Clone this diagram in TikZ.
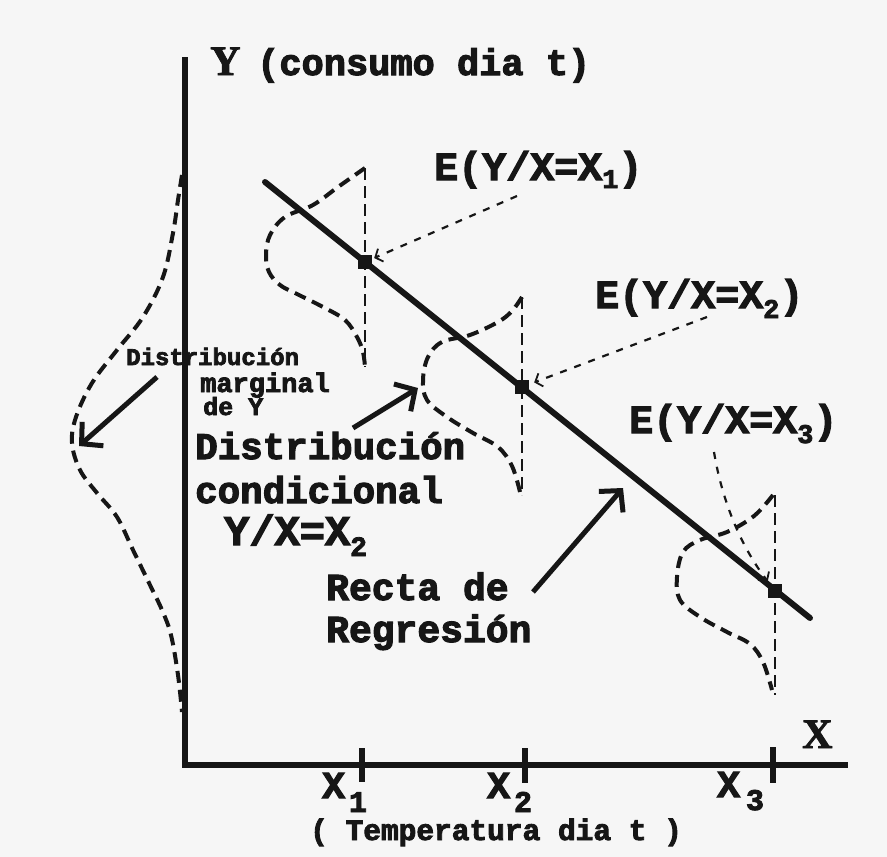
\documentclass[tikz,border=0pt]{standalone}
\usepackage{fontspec}
\usetikzlibrary{arrows.meta}
\newfontfamily\lab{Liberation Mono}[BoldFeatures={FakeBold=3}]
\newfontfamily\serb{Liberation Serif}[BoldFeatures={FakeBold=2}]
\definecolor{ink}{RGB}{22,22,22}
\definecolor{paper}{RGB}{246,246,246}
\newcommand{\fs}[1]{\fontsize{#1}{#1}\selectfont}
\newcommand{\lowsub}[4]{\kern#1pt\raisebox{-#2pt}{\fs{#3}#4}}
\begin{document}
\begin{tikzpicture}[x=1pt,y=-1pt,
  txt/.style={inner sep=0pt, anchor=base west, text=ink, font=\lab\bfseries},
  axisline/.style={line width=6.5pt, ink},
  tickline/.style={line width=5.5pt, ink},
  regline/.style={line width=6pt, ink, line cap=round},
  distcurve/.style={line width=4pt, ink, dash pattern=on 12pt off 7pt},
  vguide/.style={line width=2.2pt, ink, dash pattern=on 12pt off 6pt},
  darr/.style={line width=2.2pt, ink, dash pattern=on 7pt off 8pt, -{Straight Barb[length=6pt,width=14pt,line width=1.8pt]}},
  bigarr/.style={line width=5pt, ink, -{Straight Barb[length=15pt,width=32pt]}},
  meanbox/.style={fill=ink, draw=none, minimum size=14pt, inner sep=0pt}]
\fill[paper] (0,0) rectangle (887,857);
\useasboundingbox (0,0) rectangle (887,857);

% axes
\coordinate (O) at (185,765);
\coordinate (ytop) at (185,57);
\coordinate (xend) at (848,765);
\draw[axisline] (ytop) -- (O) -- (xend);

% ticks
\draw[tickline] (362,748) -- (362,782);
\draw[tickline] (525,748) -- (525,783);
\draw[tickline] (773,747) -- (773,783);

% regression line
\coordinate (r0) at (265,182);
\coordinate (r1) at (810,618);
\draw[regline] (r0) -- (r1);

% vertical guides
\draw[vguide] (365,168) -- (365,367);
\draw[vguide] (522,297) -- (522,495);
\draw[vguide] (775,495) -- (775,695);

% conditional distributions
\draw[distcurve] plot[smooth, tension=0.6] coordinates {(365,168) (338,187) (313,205) (285,217) (270,235) (266,255) (269,272) (280,285) (297,294) (323,307) (345,320) (357,337) (363,352) (365,367)};
\draw[distcurve] plot[smooth, tension=0.6] coordinates {(522,297) (512,311) (498,322) (470,335) (442,342) (428,357) (423,380) (427,400) (447,417) (473,433) (498,447) (512,466) (520,492)};
\draw[distcurve] plot[smooth, tension=0.6] coordinates {(773,495) (754,516) (727,532) (700,540) (683,552) (677,577) (680,600) (700,617) (727,632) (750,644) (763,662) (772,690)};

% marginal distribution
\draw[distcurve] plot[smooth, tension=0.6] coordinates {(182,175) (178,200) (173,233) (163,277) (143,317) (117,350) (92,383) (76,417) (72,443) (80,470) (97,493) (117,517) (133,550) (150,585) (162,610) (171,635) (178,675) (182,712)};

% mean points
\node[meanbox] (m1) at (365,262) {};
\node[meanbox] (m2) at (522,387) {};
\node[meanbox] (m3) at (775,591) {};

% labels
\node[inner sep=0pt, anchor=base west, text=ink, font=\serb\bfseries\fs{42}] (ylab) at (210,75) {Y};
\node[txt, font=\lab\bfseries\fs{37}] (ycons) at (257,75) {(consumo dia t)};
\node[txt, font=\lab\bfseries\fs{40}] (e1) at (434,180) {E(Y/X=X\lowsub{0}{8}{27}{1})};
\node[txt, font=\lab\bfseries\fs{40}] (e2) at (595,308) {E(Y/X=X\lowsub{0}{10}{27}{2})};
\node[txt, font=\lab\bfseries\fs{40}] (e3) at (629,433) {E(Y/X=X\lowsub{0}{10}{27}{3})};

\node[txt, font=\lab\bfseries\fs{24}] (dm1) at (126,365) {Distribución};
\node[txt, font=\lab\bfseries\fs{27}] (dm2) at (200,392) {marginal};
\node[txt, font=\lab\bfseries\fs{25}] (dm3) at (203,415) {de Y};

\node[txt, font=\lab\bfseries\fs{37.5}] (dc1) at (195,459) {Distribución};
\node[txt, font=\lab\bfseries\fs{37.5}] (dc2) at (195,503) {condicional};
\node[txt, font=\lab\bfseries\fs{42}] (dc3) at (224,545) {Y/X=X\lowsub{0}{11}{28}{2}};

\node[txt, font=\lab\bfseries\fs{38}] (rr1) at (326,600) {Recta de};
\node[txt, font=\lab\bfseries\fs{38}] (rr2) at (326,642) {Regresión};

\node[txt, font=\lab\bfseries\fs{38}] (x1l) at (322,798) {X\lowsub{4}{14}{30}{1}};
\node[txt, font=\lab\bfseries\fs{38}] (x2l) at (487,798) {X\lowsub{4}{14}{30}{2}};
\node[txt, font=\lab\bfseries\fs{38}] (x3l) at (717,797) {X\lowsub{6}{13}{30}{3}};
\node[inner sep=0pt, anchor=base west, text=ink, font=\serb\bfseries\fs{42}] (xlab) at (802,748) {X};
\node[txt, font=\lab\bfseries\fs{29.5}] (temp) at (310,840) {( Temperatura dia t )};

% dashed pointers from E labels to the means
\coordinate (e1s) at (517,196);
\coordinate (e2s) at (707,317);
\coordinate (e3s) at (714,452);
\draw[darr, shorten >=10pt] (e1s) -- (m1.center);
\draw[darr, shorten >=13pt] (e2s) -- (m2.center);
\draw[darr, shorten >=12pt] (e3s) .. controls (722,500) and (740,545) .. (m3.center);

% solid arrows
\coordinate (a1s) at (157,377);
\coordinate (a1e) at (79,446);
\draw[bigarr] (a1s) -- (a1e);
\coordinate (a2s) at (353,428);
\coordinate (a2e) at (418,388);
\draw[bigarr] (a2s) -- (a2e);
\coordinate (a3s) at (533,592);
\coordinate (a3e) at (623,488);
\draw[bigarr] (a3s) -- (a3e);
\end{tikzpicture}
\end{document}
